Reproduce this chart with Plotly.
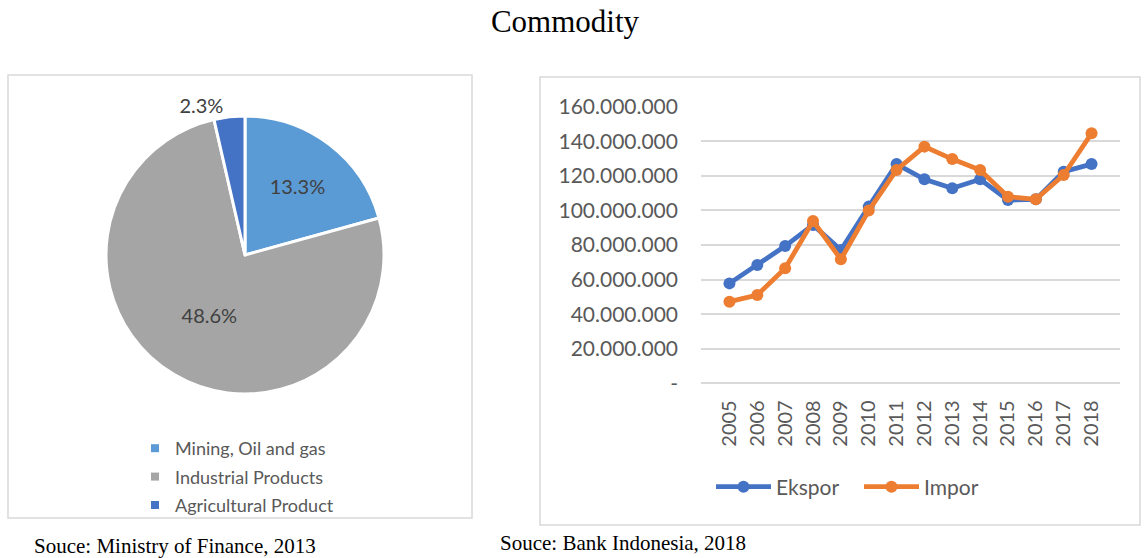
import plotly.graph_objects as go

# ---- data -------------------------------------------------------------
commodities = ["Mining, Oil and gas", "Industrial Products", "Agricultural Product"]
commodity_share = [13.3, 48.6, 2.3]
commodity_colors = ["#5B9BD5", "#A5A5A5", "#4472C4"]

years = [str(y) for y in range(2005, 2019)]
ekspor = [57.8e6, 68.4e6, 79.4e6, 91.6e6, 77.1e6, 102.2e6, 126.8e6,
          118.0e6, 112.8e6, 118.0e6, 106.0e6, 106.4e6, 122.4e6, 126.8e6]
impor = [47.2e6, 51.1e6, 66.5e6, 93.9e6, 71.7e6, 99.9e6, 123.4e6,
         136.9e6, 129.7e6, 123.4e6, 107.9e6, 106.4e6, 120.5e6, 144.6e6]

y_ticks = [0, 20e6, 40e6, 60e6, 80e6, 100e6, 120e6, 140e6, 160e6]
y_ticktext = ["-" if v == 0 else f"{int(v):,}".replace(",", ".") for v in y_ticks]

W, H = 1147, 558
px = lambda v: v / W
py = lambda v: 1 - v / H

SANS = "Lato"
SERIF = "Liberation Serif"
GREY_TXT = "#595959"
GRID = "#D9D9D9"

fig = go.Figure()

# ---- pie --------------------------------------------------------------
fig.add_trace(go.Pie(
    labels=commodities,
    values=commodity_share,
    sort=False,
    direction="clockwise",
    rotation=0,
    marker=dict(colors=commodity_colors, line=dict(color="white", width=3)),
    texttemplate="%{value:.1f}%",
    textposition=["inside", "inside", "outside"],
    insidetextorientation="horizontal",
    textfont=dict(family=SANS, size=20, color="#404040"),
    domain=dict(x=[px(106), px(384)], y=[py(394), py(116)]),
    showlegend=False,
    hoverinfo="label+value",
))

# legend entries for the pie slices (small squares)
for name, col in zip(commodities, commodity_colors):
    fig.add_trace(go.Scatter(
        x=[None], y=[None], mode="markers", name=name,
        marker=dict(symbol="square", size=8, color=col),
        legend="legend2", legendgroup=name, showlegend=True,
    ))

# ---- line chart -------------------------------------------------------
fig.add_trace(go.Scatter(
    x=years, y=ekspor, name="Ekspor", mode="lines+markers",
    line=dict(color="#4472C4", width=4.8),
    marker=dict(size=12, color="#4472C4"),
))
fig.add_trace(go.Scatter(
    x=years, y=impor, name="Impor", mode="lines+markers",
    line=dict(color="#ED7D31", width=4.8),
    marker=dict(size=12, color="#ED7D31"),
))

fig.update_layout(
    width=W, height=H,
    margin=dict(l=0, r=0, t=0, b=0, autoexpand=False),
    paper_bgcolor="white",
    plot_bgcolor="white",
    title=dict(text="Commodity", x=px(565), y=py(21), xanchor="center",
               yanchor="middle",
               font=dict(family=SERIF, size=31, color="black")),
    xaxis=dict(
        domain=[px(701), px(1120)],
        type="category",
        tickangle=-90,
        showgrid=False, showline=False, ticks="",
        tickfont=dict(family=SANS, size=20, color=GREY_TXT),
        ticklabelstandoff=12,
        automargin=False,
    ),
    yaxis=dict(
        domain=[py(383.3), py(106.7)],
        range=[0, 160e6],
        tickvals=y_ticks, ticktext=y_ticktext,
        showgrid=True, gridcolor=GRID, gridwidth=1.5,
        zeroline=True, zerolinecolor=GRID, zerolinewidth=1.5,
        showline=False, ticks="",
        tickfont=dict(family=SANS, size=21, color=GREY_TXT),
        ticklabelstandoff=22,
        automargin=False,
    ),
    legend=dict(
        orientation="h", x=px(711), y=py(487), xanchor="left", yanchor="middle",
        font=dict(family=SANS, size=21, color=GREY_TXT),
        itemwidth=55, entrywidth=78, bgcolor="rgba(0,0,0,0)",
    ),
    legend2=dict(
        orientation="v", x=px(135), y=py(430), xanchor="left", yanchor="top",
        font=dict(family=SANS, size=18, color=GREY_TXT),
        tracegroupgap=2, traceorder="grouped", bgcolor="rgba(0,0,0,0)",
    ),
    shapes=[
        dict(type="rect", xref="paper", yref="paper",
             x0=px(8), x1=px(472), y0=py(518), y1=py(75),
             line=dict(color=GRID, width=1.5), layer="below"),
        dict(type="rect", xref="paper", yref="paper",
             x0=px(540), x1=px(1140), y0=py(525), y1=py(77),
             line=dict(color=GRID, width=1.5), layer="below"),
    ],
    annotations=[
        dict(text="Souce: Ministry of Finance, 2013", xref="paper", yref="paper",
             x=px(32), y=py(546), xanchor="left", yanchor="middle",
             showarrow=False, font=dict(family=SERIF, size=21, color="black")),
        dict(text="Souce: Bank Indonesia, 2018", xref="paper", yref="paper",
             x=px(498), y=py(543), xanchor="left", yanchor="middle",
             showarrow=False, font=dict(family=SERIF, size=21, color="black")),
    ],
)

fig.write_html("out.html")
